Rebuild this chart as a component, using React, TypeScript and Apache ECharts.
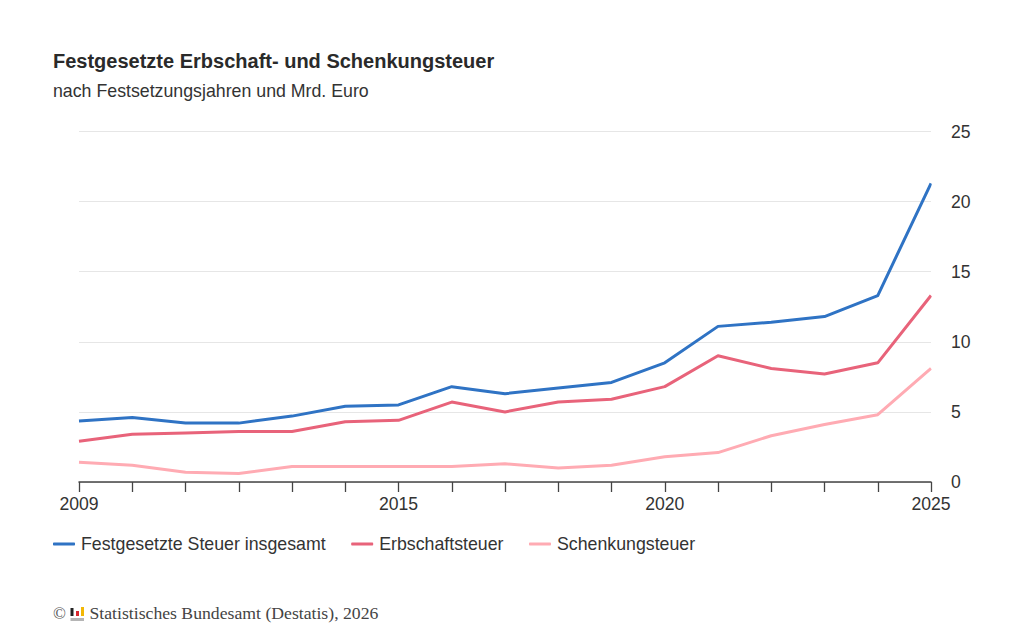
import React, { useEffect, useRef } from "react";
import * as echarts from "echarts";

const years = ["2009","2010","2011","2012","2013","2014","2015","2016","2017","2018","2019","2020","2021","2022","2023","2024","2025"];
const labelledYears = ["2009","2015","2020","2025"];
const gesamt = [4.35,4.6,4.2,4.2,4.7,5.4,5.5,6.8,6.3,6.7,7.1,8.5,11.1,11.4,11.8,13.3,21.3];
const erbschaft = [2.9,3.4,3.5,3.6,3.6,4.3,4.4,5.7,5.0,5.7,5.9,6.8,9.0,8.1,7.7,8.5,13.3];
const schenkung = [1.4,1.2,0.7,0.6,1.1,1.1,1.1,1.1,1.3,1.0,1.2,1.8,2.1,3.3,4.1,4.8,8.1];
const seriesNames = ["Festgesetzte Steuer insgesamt","Erbschaftsteuer","Schenkungsteuer"];
const colors = ["#2f73c4","#e8637a","#ffabb3"];
const titleText = "Festgesetzte Erbschaft- und Schenkungsteuer";
const subtitleText = "nach Festsetzungsjahren und Mrd. Euro";
const sourceText = "Statistisches Bundesamt (Destatis), 2026";

const sans = "'Liberation Sans', Arial, sans-serif";
const serif = "'Liberation Serif', 'Times New Roman', serif";

export default function App() {
  const ref = useRef<HTMLDivElement>(null);
  useEffect(() => {
    const chart = echarts.init(ref.current!, undefined, { renderer: "svg" });
    const line = (name: string, data: number[], color: string) => ({
      name, data, type: "line", symbol: "none", smooth: false, clip: true,
      lineStyle: { color, width: 3, cap: "butt", join: "round" },
      itemStyle: { color },
    });
    chart.setOption({
      animation: false,
      backgroundColor: "#ffffff",
      grid: { left: 79, right: 93, top: 131.5, height: 350.5, containLabel: false },
      xAxis: {
        type: "category", data: years, boundaryGap: false,
        axisLine: { lineStyle: { color: "#444444", width: 1.5 } },
        axisTick: { show: true, interval: 0, length: 10, alignWithLabel: true, lineStyle: { color: "#444444", width: 1.3 } },
        axisLabel: {
          interval: 0, margin: 13, fontFamily: sans, fontSize: 17.6, color: "#333333",
          formatter: (v: string) => (labelledYears.includes(v) ? v : ""),
          hideOverlap: false, showMinLabel: true, showMaxLabel: true,
        },
        splitLine: { show: false },
      },
      yAxis: {
        type: "value", position: "right", min: 0, max: 25, interval: 5,
        axisLine: { show: false }, axisTick: { show: false },
        axisLabel: { margin: 20, fontFamily: sans, fontSize: 17.6, color: "#333333" },
        splitLine: { lineStyle: { color: "#e6e6e6", width: 1 } },
      },
      legend: {
        left: 53, top: 535, itemWidth: 22, itemHeight: 3, itemGap: 25.5, icon: "roundRect",
        data: seriesNames, selectedMode: false, padding: 0,
        textStyle: { fontFamily: sans, fontSize: 17.75, color: "#333333", padding: [0, 0, 0, 1] },
      },
      series: [
        line(seriesNames[0], gesamt, colors[0]),
        line(seriesNames[1], erbschaft, colors[1]),
        line(seriesNames[2], schenkung, colors[2]),
      ],
      graphic: [
        { type: "rect", z: 100, shape: { x: 931.7, y: 125, width: 14, height: 350 }, style: { fill: "#ffffff" } },
        { type: "text", left: 53, top: 51, style: { text: titleText, font: `bold 20px ${sans}`, fill: "#2a2a2a" } },
        { type: "text", left: 53, top: 82, style: { text: subtitleText, font: `17.75px ${sans}`, fill: "#333333" } },
        { type: "text", left: 53, top: 605, style: { text: "©", font: `17px ${serif}`, fill: "#555555" } },
        { type: "rect", shape: { x: 70.5, y: 618, width: 13.5, height: 3 }, style: { fill: "#b5b5b5" } },
        { type: "rect", shape: { x: 70.5, y: 608, width: 3, height: 8 }, style: { fill: "#222222" } },
        { type: "rect", shape: { x: 76, y: 611, width: 3, height: 5 }, style: { fill: "#d9262e" } },
        { type: "rect", shape: { x: 81, y: 607, width: 3, height: 9 }, style: { fill: "#f2b705" } },
        { type: "text", left: 89.5, top: 604, style: { text: sourceText, font: `17.7px ${serif}`, fill: "#444444" } },
      ],
    });
    return () => chart.dispose();
  }, []);
  return <div ref={ref} style={{ position: "fixed", left: 0, top: 0, width: 1024, height: 640 }} />;
}
